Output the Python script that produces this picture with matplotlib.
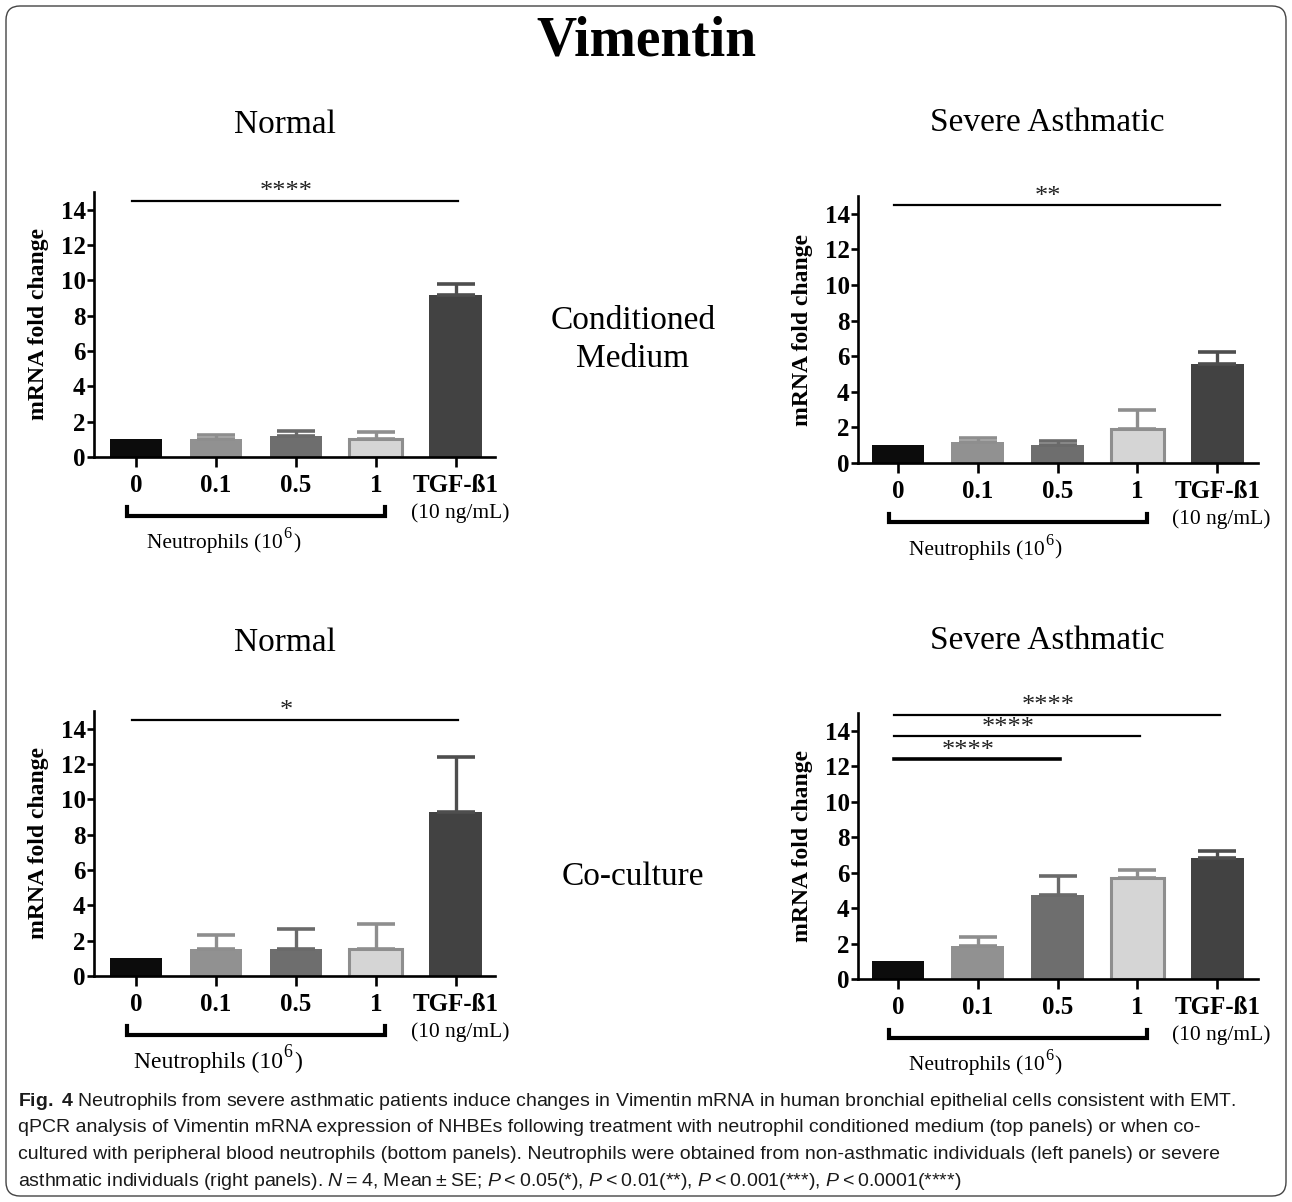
import matplotlib
matplotlib.use('Agg')
import matplotlib.pyplot as plt
from matplotlib.patches import FancyBboxPatch

# ------------------------------------------------------------
# Data (mean fold change and upper SE)
# ------------------------------------------------------------
categories = ['0', '0.1', '0.5', '1', 'TGF-ß1']

cm_normal_mean = [1.0, 1.02, 1.17, 1.02, 9.19]
cm_normal_err = [0.0, 0.21, 0.33, 0.38, 0.62]

cm_severe_mean = [1.0, 1.18, 1.03, 1.91, 5.58]
cm_severe_err = [0.0, 0.22, 0.19, 1.05, 0.64]

co_normal_mean = [1.0, 1.55, 1.55, 1.55, 9.30]
co_normal_err = [0.0, 0.77, 1.13, 1.40, 3.09]

co_severe_mean = [1.0, 1.84, 4.76, 5.72, 6.85]
co_severe_err = [0.0, 0.53, 1.07, 0.41, 0.38]

# significance brackets: (from group, to group, height, stars)
cm_normal_sig = [(0, 4, 14.5, '****')]
cm_severe_sig = [(0, 4, 14.5, '**')]
co_normal_sig = [(0, 4, 14.5, '*')]
co_severe_sig = [(0, 4, 14.9, '****'), (0, 3, 13.7, '****'), (0, 2, 12.4, '****')]

TS = '\u2009'
caption_lines = [
    r'$\mathbf{Fig.\ 4}$ Neutrophils from severe asthmatic patients induce changes in Vimentin mRNA in human bronchial epithelial cells consistent with EMT.',
    'qPCR analysis of Vimentin mRNA expression of NHBEs following treatment with neutrophil conditioned medium (top panels) or when co-',
    'cultured with peripheral blood neutrophils (bottom panels). Neutrophils were obtained from non-asthmatic individuals (left panels) or severe',
    'asthmatic individuals (right panels). $\\mathit{N}$' + TS + '=' + TS + '4, Mean' + TS + '±' + TS + 'SE; '
    '$\\mathit{P}$' + TS + '<' + TS + '0.05(*), $\\mathit{P}$' + TS + '<' + TS + '0.01(**), '
    '$\\mathit{P}$' + TS + '<' + TS + '0.001(***), $\\mathit{P}$' + TS + '<' + TS + '0.0001(****)',
]

# ------------------------------------------------------------
# Style
# ------------------------------------------------------------
SERIF = 'Liberation Serif'
CAPTION_FONT = 'Liberation Sans'
plt.rcParams['mathtext.fontset'] = 'custom'
plt.rcParams['mathtext.rm'] = 'Liberation Sans'
plt.rcParams['mathtext.it'] = 'Liberation Sans:italic'
plt.rcParams['mathtext.bf'] = 'Liberation Sans:bold'

bar_face = ['#0c0c0c', '#919191', '#6e6e6e', '#d5d5d5', '#424242']
bar_edge = ['#0c0c0c', '#919191', '#6e6e6e', '#8e8e8e', '#424242']
err_color = ['#0c0c0c', '#8e8e8e', '#6a6a6a', '#8e8e8e', '#4e4e4e']

W, H = 1292, 1202
fig = plt.figure(figsize=(W / 100, H / 100), dpi=100)


def fx(x):
    return x / W


def fy(y):
    return 1 - y / H


def draw_panel(rect, means, errs, sigs, xlim, neutro_size):
    ax = fig.add_axes(rect)
    xs = list(range(len(categories)))
    for i in xs:
        ax.bar(i, means[i], width=0.66, color=bar_face[i], edgecolor=bar_edge[i],
               linewidth=2.2 if i == 3 else 0, zorder=2)
        if errs[i] > 0:
            ax.errorbar(i, means[i], yerr=[[0], [errs[i]]], fmt='none', ecolor=err_color[i],
                        elinewidth=2.4, capsize=14, capthick=2.6, zorder=3)
    ax.set_xlim(*xlim)
    ax.set_ylim(0, 15)
    ax.set_yticks(range(0, 15, 2))
    ax.set_xticks(xs)
    ax.set_xticklabels(categories)
    for s in ['top', 'right']:
        ax.spines[s].set_visible(False)
    for s in ['left', 'bottom']:
        ax.spines[s].set_linewidth(1.9)
    ax.tick_params(axis='both', direction='out', width=1.9, length=5)
    ax.tick_params(axis='x', length=7, pad=5)
    ax.tick_params(axis='y', pad=1)
    for lab in ax.get_xticklabels() + ax.get_yticklabels():
        lab.set_fontfamily(SERIF)
        lab.set_fontweight('bold')
        lab.set_fontsize(18)
    ax.set_ylabel('mRNA fold change', fontfamily=SERIF, fontweight='bold', fontsize=17, labelpad=8)

    # significance lines
    for i, j, y, stars in sigs:
        lw = 2.6 if (j - i) == 2 and len(sigs) > 1 else 1.6
        ax.plot([i - 0.05, j + 0.03], [y, y], color='black', lw=lw, clip_on=False, zorder=4)
        ax.text((i + j) / 2 - 0.12, y - 0.15, stars, ha='center', va='bottom',
                fontfamily=SERIF, fontsize=19, color='#222222', clip_on=False)

    # bracket under the neutrophil groups
    tr = ax.get_xaxis_transform()
    ax.plot([-0.11, -0.11, 3.12, 3.12], [-0.19, -0.222, -0.222, -0.19], color='black', lw=3,
            transform=tr, clip_on=False, solid_joinstyle='miter')
    ax.text(4.05, -0.21, '(10 ng/mL)', transform=tr, ha='center', va='center',
            fontfamily=SERIF, fontsize=15.5)
    t1 = ax.text(1.56 + 0.28, -0.325, 'Neutrophils (10', transform=tr, ha='right', va='center',
                 fontfamily=SERIF, fontsize=neutro_size)
    ax.annotate('6', xy=(1, 0.55), xycoords=t1, ha='left', va='bottom',
                fontfamily=SERIF, fontsize=neutro_size * 0.75)
    ax.annotate(')', xy=(1, 0), xycoords=t1, xytext=(neutro_size * 0.45, 0),
                textcoords='offset points', ha='left', va='bottom',
                fontfamily=SERIF, fontsize=neutro_size)
    return ax


draw_panel([fx(94), fy(457), fx(401), 265 / H], cm_normal_mean, cm_normal_err, cm_normal_sig,
           (-0.525, 4.49), 15.5)
draw_panel([fx(858), fy(463), fx(400), 267 / H], cm_severe_mean, cm_severe_err, cm_severe_sig,
           (-0.50, 4.51), 15.5)
draw_panel([fx(94), fy(976), fx(401), 265 / H], co_normal_mean, co_normal_err, co_normal_sig,
           (-0.525, 4.49), 17)
draw_panel([fx(858), fy(979), fx(400), 266 / H], co_severe_mean, co_severe_err, co_severe_sig,
           (-0.50, 4.51), 15.5)

# titles
fig.text(fx(646), fy(42), 'Vimentin', ha='center', va='center', fontfamily=SERIF,
         fontweight='bold', fontsize=40)
fig.text(fx(285), fy(125), 'Normal', ha='center', va='center', fontfamily=SERIF, fontsize=24)
fig.text(fx(1047), fy(123), 'Severe Asthmatic', ha='center', va='center', fontfamily=SERIF, fontsize=24)
fig.text(fx(285), fy(643), 'Normal', ha='center', va='center', fontfamily=SERIF, fontsize=24)
fig.text(fx(1047), fy(641), 'Severe Asthmatic', ha='center', va='center', fontfamily=SERIF, fontsize=24)
fig.text(fx(633), fy(340), 'Conditioned\nMedium', ha='center', va='center', fontfamily=SERIF,
         fontsize=24, linespacing=1.3)
fig.text(fx(633), fy(877), 'Co-culture', ha='center', va='center', fontfamily=SERIF, fontsize=24)

# caption
for k, line in enumerate(caption_lines):
    fig.text(fx(18), fy(1101 + 26.7 * k), line, ha='left', va='center', fontfamily=CAPTION_FONT,
             fontsize=14, color='#1a1a1a')

# rounded border round the whole figure
border = FancyBboxPatch((6, 6), W - 12, H - 12, boxstyle='round,pad=0,rounding_size=14',
                        transform=None, fill=False, edgecolor='#444444', lw=1.0)
fig.add_artist(border)

fig.savefig('out.png', dpi=100)
